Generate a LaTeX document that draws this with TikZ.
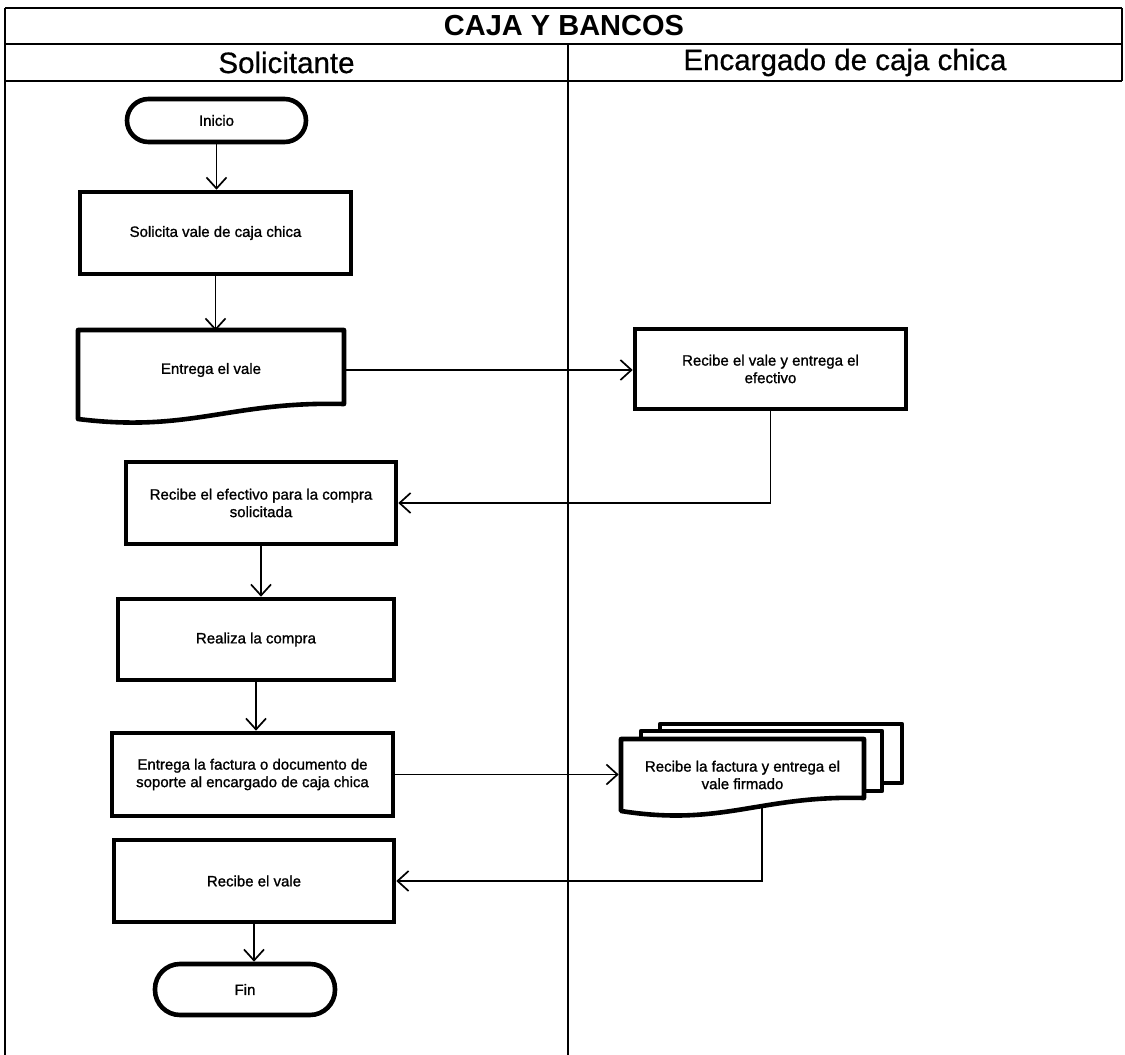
\documentclass[tikz,border=0pt]{standalone}
\usepackage{fontspec}
\setmainfont{Liberation Sans}
\newfontfamily\boxfont[FakeBold=1.1]{Liberation Sans}
\newfontfamily\lanefont[FakeBold=0.6]{Liberation Sans}
\usetikzlibrary{arrows.meta,calc}

\begin{document}
\begin{tikzpicture}[x=1pt,y=-1pt,
  frame/.style={line width=1.6pt},
  boxtext/.style={align=center,font=\boxfont\fontsize{15}{17.5}\selectfont},
  proc/.style={draw,line width=4.6pt,inner sep=0pt,boxtext},
  term/.style={proc,rounded corners=#1},
  docnode/.style={inner sep=0pt,outer sep=2.3pt,boxtext},
  docline/.style={line width=4.6pt,line join=round},
  flow/.style={line width=1.7pt,-{Straight Barb[length=11pt,width=20pt,line width=1.7pt]}},
  lanehead/.style={font=\lanefont\fontsize{29.5}{31}\selectfont}
]
\useasboundingbox (0,0) rectangle (1125,1055);
\fill[white] (0,0) rectangle (1125,1055);

% swimlane frame
\draw[frame] (5,8) -- (1122,8);
\draw[frame] (5,44) -- (1122,44);
\draw[frame] (5,81) -- (1122,81);
\draw[frame] (5,8) -- (5,1055);
\draw[frame] (1122,8) -- (1122,81);
\draw[frame] (568,44) -- (568,1055);

\node[font=\bfseries\fontsize{29}{31}\selectfont] (title) at (564,26) {CAJA Y BANCOS};
\node[lanehead] (laneA) at (286.5,62.5) {Solicitante};
\node[lanehead] (laneB) at (845,62.5) {Encargado de caja chica};

% Solicitante lane
\node[term=21.5pt,minimum width=179pt,minimum height=43pt] (ini) at (216.5,120.5) {Inicio};
\node[proc,minimum width=271pt,minimum height=82pt] (sol) at (215.5,233) {Solicita vale de caja chica};

\node[docnode,minimum width=266pt,minimum height=74pt] (vale) at (211,370) {Entrega el vale};
\draw[docline] (78,330) -- (344,330) -- (344,404)
  .. controls (230,401) and (190,433) .. (78,419) -- cycle;

\node[proc,minimum width=270pt,minimum height=82pt] (efec) at (261,503)
  {Recibe el efectivo para la compra\\solicitada};
\node[proc,minimum width=276pt,minimum height=81pt] (real) at (256,639.5) {Realiza la compra};
\node[proc,minimum width=281pt,minimum height=83pt] (entfac) at (252.5,774.5)
  {Entrega la factura o documento de\\soporte al encargado de caja chica};
\node[proc,minimum width=280pt,minimum height=82pt] (rvale) at (254,881) {Recibe el vale};
\node[term=25pt,minimum width=180pt,minimum height=51pt] (fin) at (245,989.5) {Fin};

% Encargado de caja chica lane
\node[proc,minimum width=271pt,minimum height=80pt] (rv) at (770.5,369)
  {Recibe el vale y entrega el\\efectivo};

% stacked documents
\filldraw[docline,fill=white] (660,724) rectangle (902,783);
\filldraw[docline,fill=white] (641,731) rectangle (882,791);
\filldraw[docline,fill=white] (621,739) -- (864,739) -- (864,798)
  .. controls (760,795) and (723,827) .. (621,811) -- cycle;
\node[docnode,minimum width=243pt,minimum height=59pt] (fact) at (742.5,775)
  {Recibe la factura y entrega el\\vale firmado};
\coordinate (factout) at (762,806);

% connectors
\draw[flow] (ini.south) -- (ini.south |- sol.north);
\draw[flow] (sol.south) -- (sol.south |- vale.north);
\draw[flow] (vale.east) -- (vale.east -| rv.west);
\draw[flow] (rv.south) |- (efec.east);
\draw[flow] (efec.south) -- (efec.south |- real.north);
\draw[flow] (real.south) -- (real.south |- entfac.north);
\draw[flow] (entfac.east) -- (entfac.east -| fact.west);
\draw[flow] (factout) |- (rvale.east);
\draw[flow] (rvale.south) -- (rvale.south |- fin.north);
\end{tikzpicture}
\end{document}
